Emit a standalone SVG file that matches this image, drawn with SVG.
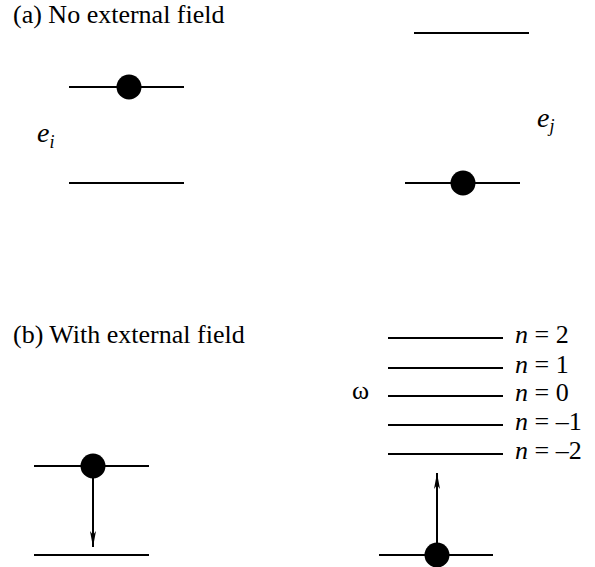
<svg xmlns="http://www.w3.org/2000/svg" width="595" height="567" viewBox="0 0 595 567">
<defs>
<style>
.lv{stroke:#000;stroke-width:2;fill:none}
.dot{fill:#000}
.t{font-family:"Liberation Serif","Times New Roman",serif;fill:#000}
.title{font-size:26px}
.it{font-style:italic}
.lab{font-size:26px}
.arr{stroke:#000;stroke-width:2;fill:none}
</style>
<marker id="ah" viewBox="0 0 16 6" refX="16" refY="3" markerWidth="16" markerHeight="6" markerUnits="userSpaceOnUse" orient="auto">
<path d="M0,0 L16,3 L0,6 L4,3 Z" fill="#000"/>
</marker>
</defs>
<rect width="595" height="567" fill="#fff"/>
<g id="title-a"><text class="t title" x="13" y="23">(a) No external field</text></g>
<g id="title-b"><text class="t title" x="13" y="343">(b) With external field</text></g>

<g id="a-left">
<line class="lv" x1="69" y1="87" x2="184" y2="87"/>
<circle class="dot" cx="129" cy="87" r="12.5"/>
<line class="lv" x1="69" y1="183" x2="184" y2="183"/>
<text class="t it" font-size="28" x="37" y="142">e<tspan font-size="18" dy="6">i</tspan></text>
</g>

<g id="a-right">
<line class="lv" x1="414" y1="33" x2="529" y2="33"/>
<line class="lv" x1="405" y1="183" x2="520" y2="183"/>
<circle class="dot" cx="463" cy="183" r="12.5"/>
<text class="t it" font-size="28" x="537" y="127">e<tspan font-size="18" dy="5">j</tspan></text>
</g>

<g id="b-left">
<line class="lv" x1="34" y1="466" x2="149" y2="466"/>
<circle class="dot" cx="93" cy="466" r="12.5"/>
<line class="lv" x1="34" y1="555" x2="149" y2="555"/>
</g>

<g id="b-right">
<line class="lv" x1="388" y1="338" x2="503" y2="338"/>
<line class="lv" x1="388" y1="368" x2="503" y2="368"/>
<line class="lv" x1="388" y1="396" x2="503" y2="396"/>
<line class="lv" x1="388" y1="425" x2="503" y2="425"/>
<line class="lv" x1="388" y1="454" x2="503" y2="454"/>
<text class="t" x="352" y="399" font-size="26">ω</text>
<text class="t lab" x="515" y="343"><tspan class="it">n</tspan> = 2</text>
<text class="t lab" x="515" y="373"><tspan class="it">n</tspan> = 1</text>
<text class="t lab" x="515" y="401"><tspan class="it">n</tspan> = 0</text>
<text class="t lab" x="515" y="430"><tspan class="it">n</tspan> = –1</text>
<text class="t lab" x="515" y="459"><tspan class="it">n</tspan> = –2</text>
<line class="lv" x1="379" y1="555" x2="493" y2="555"/>
<circle class="dot" cx="437" cy="555" r="12.5"/>
</g>

<g id="connectors">
<line class="arr" x1="93" y1="478" x2="93" y2="547" marker-end="url(#ah)"/>
<line class="arr" x1="437" y1="543" x2="437" y2="473" marker-end="url(#ah)"/>
</g>
</svg>
